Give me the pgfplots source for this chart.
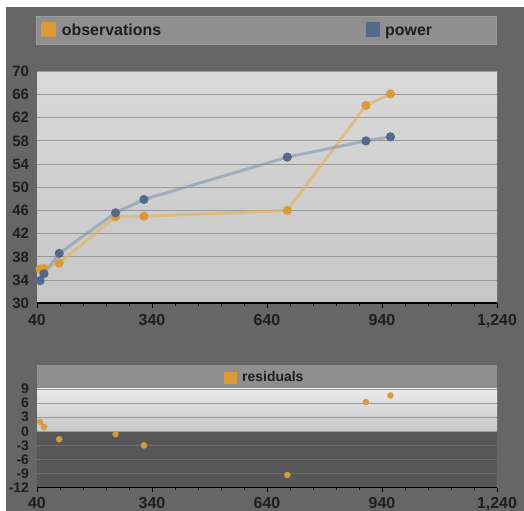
\documentclass[border=0pt]{standalone}
\usepackage{fontspec}
\setmainfont{Liberation Sans}
\usepackage{pgfplots}
\pgfplotsset{compat=1.18}
\definecolor{panel}{HTML}{666666}
\definecolor{legfill}{HTML}{8F8F8F}
\definecolor{legdraw}{HTML}{9C9C9C}
\definecolor{obsc}{HTML}{D99A3A}
\definecolor{obsline}{HTML}{E2B567}
\definecolor{powc}{HTML}{546A8C}
\definecolor{powline}{HTML}{7D90AA}
\definecolor{gridc}{HTML}{9A9A9A}
\definecolor{darkgrid}{HTML}{6C6C6C}
\definecolor{darkbg}{HTML}{575757}
\definecolor{labc}{HTML}{1E1E1E}
\begin{document}
\begin{tikzpicture}[x=1bp,y=1bp]
\useasboundingbox (0,0) rectangle (524,511);
\fill[white] (0,0) rectangle (524,511);
\fill[panel] (6,0) rectangle (524,504);
% main legend
\fill[legfill,draw=legdraw,line width=0.8bp] (36.7,466.7) rectangle (496.7,494.3);
\fill[obsc] (41.3,474.3) rectangle (56,488.7);
\fill[powc] (366,474.3) rectangle (380,488.7);
\node[anchor=base west,inner sep=0,font=\bfseries\fontsize{16}{16}\selectfont,text=labc] at (61.7,475) {observations};
\node[anchor=base west,inner sep=0,font=\bfseries\fontsize{16}{16}\selectfont,text=labc] at (385,475) {power};
% residual legend
\fill[legfill] (37,122) rectangle (497,146);
\fill[obsc] (224,127) rectangle (237,139.3);
\node[anchor=base west,inner sep=0,font=\bfseries\fontsize{14}{14}\selectfont,text=labc] at (242,129) {residuals};
% residual plot backgrounds
\fill[darkbg] (37,23.3) rectangle (497,79.7);
\shade[top color=black!8, bottom color=black!22] (37,79.7) rectangle (497,122);

\pgfplotsset{
  common/.style={
    scale only axis, anchor=south west, width=460bp,
    xmin=40, xmax=1240,
    xtick={40,340,640,940,1240}, xticklabels={40,340,640,940,{1,240}},
    minor x tick num=4,
    axis x line*=bottom, axis y line*=left,
    x axis line style={-, black, line width=1.6bp},
    y axis line style={draw=none},
    tick align=outside,
    major tick length=4.5bp, minor tick length=2.5bp,
    xtick style={black, line width=1bp},
    ytick style={draw=none},
    /pgf/number format/assume math mode=true,
    x tick label style={font=\bfseries\fontsize{16}{16}\selectfont, text=labc, yshift=-3.5bp},
    y tick label style={font=\bfseries\fontsize{15}{15}\selectfont, text=labc},
    ymajorgrids,
    clip=false,
  }
}

\begin{axis}[common,
  at={(37bp,207.7bp)}, height=232bp,
  ymin=30, ymax=70, ytick={30,34,...,70},
  grid style={color=gridc, line width=0.9bp},
  axis background/.style={shade, top color=black!15, bottom color=black!22},
]
\addplot[obsline, line width=3bp, opacity=0.7, mark=*, mark size=3bp,
  mark options={obsc, opacity=1}] coordinates {
  (48,35.9) (58,36.0) (98,36.95) (245,44.9) (319,45.0) (693,46.0) (898,64.1) (962,66.1)};
\addplot[powline, line width=3bp, opacity=0.55, mark=*, mark size=3bp,
  mark options={powc, opacity=1}] coordinates {
  (48,33.9) (58,35.1) (98,38.6) (245,45.6) (319,47.9) (693,55.2) (898,58.0) (962,58.7)};
\end{axis}

\begin{axis}[common,
  at={(37bp,23.3bp)}, height=98.7bp,
  ymin=-12, ymax=9, ytick={-12,0,3,6,9},
  x tick label style={yshift=2bp},
  y tick label style={font=\bfseries\fontsize{14}{14}\selectfont},
  grid style={color=gridc, line width=0.9bp},
  extra y ticks={-3,-6,-9},
  extra y tick style={grid style={color=darkgrid, line width=0.9bp}},
]
\addplot[only marks, mark=*, mark size=3bp, obsc] coordinates {
  (48,2.0) (58,0.9) (98,-1.7) (245,-0.6) (319,-3.0) (693,-9.3) (898,6.2) (962,7.6)};
\end{axis}
\end{tikzpicture}
\end{document}
